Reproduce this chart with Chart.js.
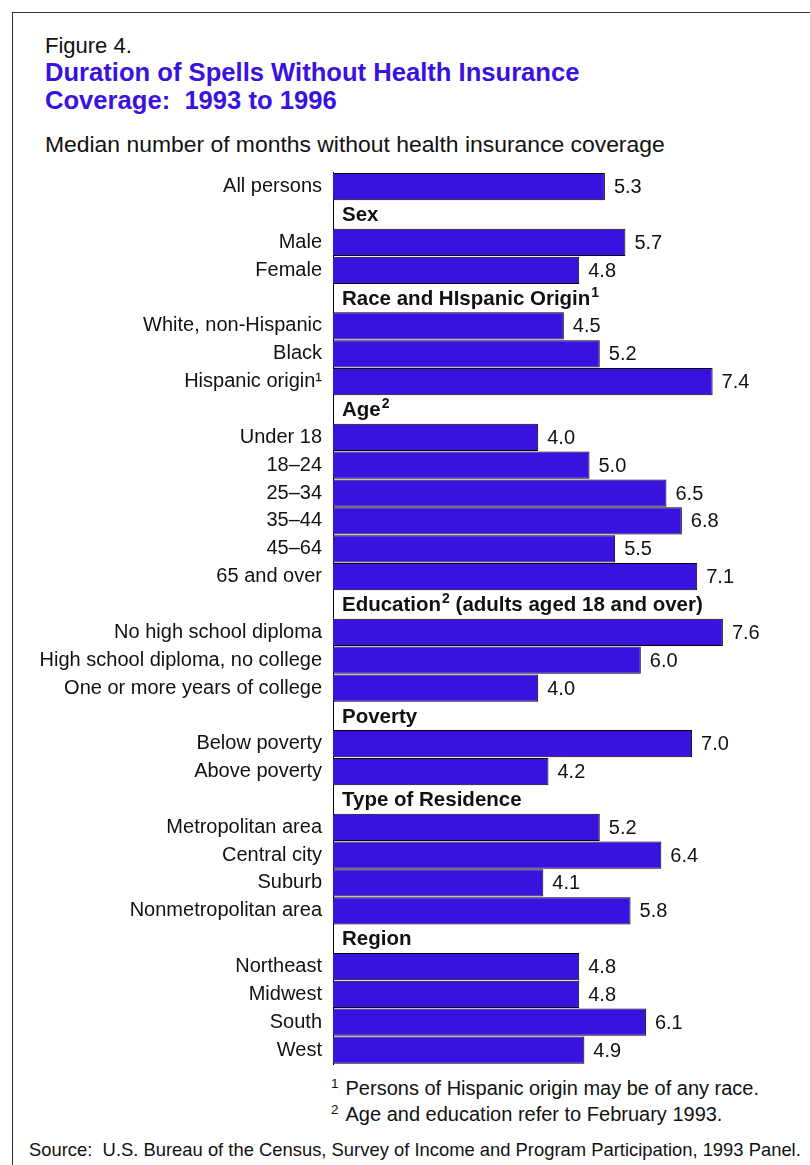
<!DOCTYPE html>
<html>
<head>
<meta charset="utf-8">
<script src="https://cdn.jsdelivr.net/npm/chart.js@4.4.1/dist/chart.umd.min.js"></script>
<style>
  html, body { margin: 0; padding: 0; background: #fff; }
  body { width: 810px; height: 1165px; position: relative; overflow: hidden; font-family: "Liberation Sans", Arial, sans-serif; color: #111; }
  .frame { position: absolute; left: 12px; top: 12px; width: 900px; height: 1300px; border-left: 1px solid #333; border-top: 1px solid #333; }
  .txt { position: absolute; white-space: nowrap; }
  #fig { left: 45px; top: 35px; font-size: 22px; line-height: 22px; }
  #title { left: 45px; top: 59px; font-size: 25.6px; line-height: 27.6px; font-weight: bold; color: #3a12e0; }
  #sub { left: 45px; top: 132.5px; font-size: 22.9px; line-height: 22.9px; }
  #notes { left: 331px; top: 1077px; font-size: 20px; line-height: 23.6px; }
  #notes sup { font-size: 13.5px; vertical-align: 0; position: relative; top: -7px; margin-right: 7px; }
  #source { left: 29px; top: 1141px; font-size: 18.4px; line-height: 18.4px; }
  #c { position: absolute; left: 0; top: 160px; }
</style>
</head>
<body>
<div class="frame"></div>
<div class="txt" id="fig">Figure 4.</div>
<div class="txt" id="title">Duration of Spells Without Health Insurance<br>Coverage:&nbsp; 1993 to 1996</div>
<div class="txt" id="sub">Median number of months without health insurance coverage</div>
<canvas id="c" width="810" height="915"></canvas>
<div class="txt" id="notes"><sup>1</sup>Persons of Hispanic origin may be of any race.<br><sup>2</sup>Age and education refer to February 1993.</div>
<div class="txt" id="source">Source:&nbsp; U.S. Bureau of the Census, Survey of Income and Program Participation, 1993 Panel.</div>
<script>
// one row per category; section heading rows have an empty label and no value
const rowLabels = [
  'All persons', '',
  'Male', 'Female', '',
  'White, non-Hispanic', 'Black', 'Hispanic origin¹', '',
  'Under 18', '18–24', '25–34', '35–44', '45–64', '65 and over', '',
  'No high school diploma', 'High school diploma, no college', 'One or more years of college', '',
  'Below poverty', 'Above poverty', '',
  'Metropolitan area', 'Central city', 'Suburb', 'Nonmetropolitan area', '',
  'Northeast', 'Midwest', 'South', 'West',
];
const sectionHeads = [
  '', 'Sex',
  '', '', 'Race and HIspanic Origin¹',
  '', '', '', 'Age²',
  '', '', '', '', '', '', 'Education² (adults aged 18 and over)',
  '', '', '', 'Poverty',
  '', '', 'Type of Residence',
  '', '', '', '', 'Region',
  '', '', '', '',
];
const months = [
  5.3, null,
  5.7, 4.8, null,
  4.5, 5.2, 7.4, null,
  4.0, 5.0, 6.5, 6.8, 5.5, 7.1, null,
  7.6, 6.0, 4.0, null,
  7.0, 4.2, null,
  5.2, 6.4, 4.1, 5.8, null,
  4.8, 4.8, 6.1, 4.9,
];

const FONT = '"Liberation Sans", Arial, sans-serif';
const BAR = '#3a12e0';
const SUP = { '¹': '1', '²': '2' };

// draws text left-aligned, turning ¹ ² into small raised digits
function drawWithSup(ctx, text, x, y, size) {
  const parts = text.split(/([¹²])/);
  parts.forEach(p => {
    if (!p) return;
    if (SUP[p]) {
      ctx.font = `bold ${Math.round(size * 0.68)}px ${FONT}`;
      ctx.fillText(SUP[p], x + 1, y - size * 0.3);
      x += ctx.measureText(SUP[p]).width + 1;
    } else {
      ctx.font = `bold ${size}px ${FONT}`;
      ctx.fillText(p, x, y);
      x += ctx.measureText(p).width;
    }
  });
}

// bold section headings inside the plot, just right of the axis
const headsPlugin = {
  id: 'heads',
  afterDatasetsDraw(chart) {
    const { ctx, chartArea, scales } = chart;
    ctx.save();
    ctx.fillStyle = '#111';
    ctx.textAlign = 'left';
    ctx.textBaseline = 'middle';
    sectionHeads.forEach((t, i) => {
      if (t) drawWithSup(ctx, t, chartArea.left + 9, scales.y.getPixelForValue(i) + 1, 20.5);
    });
    ctx.restore();
  },
};

// value printed after the end of each bar
const valuesPlugin = {
  id: 'values',
  afterDatasetsDraw(chart) {
    const { ctx } = chart;
    const meta = chart.getDatasetMeta(0);
    ctx.save();
    ctx.font = `20px ${FONT}`;
    ctx.fillStyle = '#111';
    ctx.textAlign = 'left';
    ctx.textBaseline = 'middle';
    meta.data.forEach((bar, i) => {
      const v = months[i];
      if (v == null) return;
      ctx.fillText(v.toFixed(1), bar.x + 9, bar.y + 1);
    });
    ctx.restore();
  },
};

new Chart(document.getElementById('c').getContext('2d'), {
  type: 'bar',
  data: {
    labels: rowLabels,
    datasets: [{
      data: months,
      backgroundColor: BAR,
      borderColor: '#000',
      borderWidth: 1,
      borderSkipped: 'start',
      barPercentage: 0.98,
      categoryPercentage: 1,
    }],
  },
  options: {
    indexAxis: 'y',
    responsive: false,
    animation: false,
    layout: { padding: { left: 0, right: 15.3, top: 12.8, bottom: 11 } },
    plugins: { legend: { display: false }, tooltip: { enabled: false } },
    scales: {
      x: { display: false, min: 0, max: 9 },
      y: {
        grid: { display: false, drawTicks: false, tickLength: 0 },
        border: { display: true, color: '#000', width: 1 },
        ticks: { autoSkip: false, padding: 11, color: '#111', font: { family: FONT, size: 20 } },
        afterFit(scale) {
          scale.width = 333;
          scale.paddingTop = 0;
          scale.paddingBottom = 0;
        },
      },
    },
  },
  plugins: [headsPlugin, valuesPlugin],
});
</script>
</body>
</html>
